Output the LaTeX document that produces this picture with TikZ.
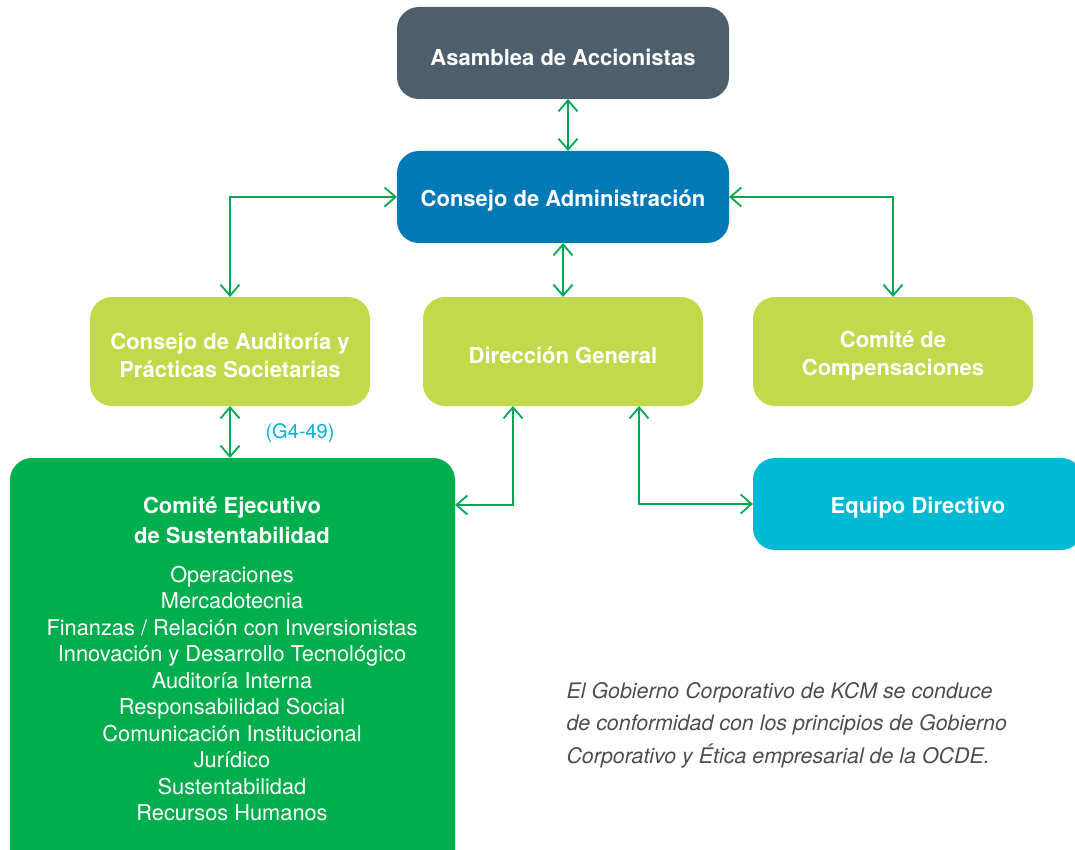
\documentclass[tikz,border=0pt]{standalone}
\usepackage{fontspec}
\setmainfont{TeX Gyre Heros}
\usetikzlibrary{arrows.meta}
\definecolor{slate}{HTML}{4D5E6C}
\definecolor{adminblue}{HTML}{0079B6}
\definecolor{lime}{HTML}{C2D94B}
\definecolor{cegreen}{HTML}{00AE4E}
\definecolor{eqcyan}{HTML}{00B9D4}
\definecolor{arrowgreen}{HTML}{00A94F}
\definecolor{labelcyan}{HTML}{00B4D8}
\definecolor{notegray}{HTML}{4D4D4D}
\begin{document}
\begin{tikzpicture}[x=1pt,y=-1pt,
  box/.style={rounded corners=22pt, inner sep=0pt, outer sep=0pt},
  boxtext/.style={text=white, align=center, yshift=-4pt,
    font=\bfseries\fontsize{22}{28}\selectfont},
  tip/.tip={Straight Barb[length=11pt,width=19pt]},
  conn/.style={draw=arrowgreen, line width=1.8pt, tip-tip},
  listtext/.style={text=white, align=center, font=\fontsize{21.8}{26.5}\selectfont},
]
\path[use as bounding box] (0,0) rectangle (1075,850);
\clip (0,0) rectangle (1075,850);

\node[box, fill=slate, minimum width=332pt, minimum height=92pt,
  label={[boxtext]center:Asamblea de Accionistas}] (asam) at (563,53) {};
\node[box, fill=adminblue, minimum width=332pt, minimum height=92pt,
  label={[boxtext]center:Consejo de Administración}] (cadm) at (563,197) {};
\node[box, fill=lime, minimum width=280pt, minimum height=109pt,
  label={[boxtext]center:Consejo de Auditoría y\\Prácticas Societarias}] (aud) at (230,351.5) {};
\node[box, fill=lime, minimum width=280pt, minimum height=109pt,
  label={[boxtext]center:Dirección General}] (dg) at (563,351.5) {};
\node[box, fill=lime, minimum width=280pt, minimum height=109pt,
  label={[boxtext]center:Comité de\\Compensaciones}] (comp) at (893,351.5) {};
\node[box, fill=eqcyan, minimum width=330pt, minimum height=92pt,
  label={[boxtext]center:Equipo Directivo}] (eq) at (918,504) {};
\node[box, fill=cegreen, minimum width=445pt, minimum height=420pt] (ce) at (232.5,668) {};

\node[text=white, align=center, font=\bfseries\fontsize{22}{30}\selectfont] (cetitle) at (232,520) {Comité Ejecutivo\\de Sustentabilidad};
\node[listtext] (celist) at (232,693.5) {Operaciones\\Mercadotecnia\\Finanzas / Relación con Inversionistas\\Innovación y Desarrollo Tecnológico\\Auditoría Interna\\Responsabilidad Social\\Comunicación Institucional\\Jurídico\\Sustentabilidad\\Recursos Humanos};

\node[text=labelcyan, font=\fontsize{20}{22}\selectfont] (g4) at (300,433) {(G4-49)};

\node[anchor=west, align=left, text=notegray, font=\itshape\fontsize{21.4}{32.5}\selectfont] (note) at (563,725)
  {El Gobierno Corporativo de KCM se conduce\\de conformidad con los principios de Gobierno\\Corporativo y Ética empresarial de la OCDE.};

\draw[conn] ([xshift=5pt]asam.south) -- ([xshift=5pt]cadm.north);
\draw[conn] (cadm.south) -- (dg.north);
\draw[conn] (cadm.west) -| (aud.north);
\draw[conn] (cadm.east) -| (comp.north);
\draw[conn] (aud.south) -- (aud.south |- ce.north);
\draw[conn] ([xshift=-50pt]dg.south) |- ([yshift=-47pt]ce.north east);
\draw[conn] ([xshift=76pt]dg.south) |- (eq.west);
\end{tikzpicture}
\end{document}
